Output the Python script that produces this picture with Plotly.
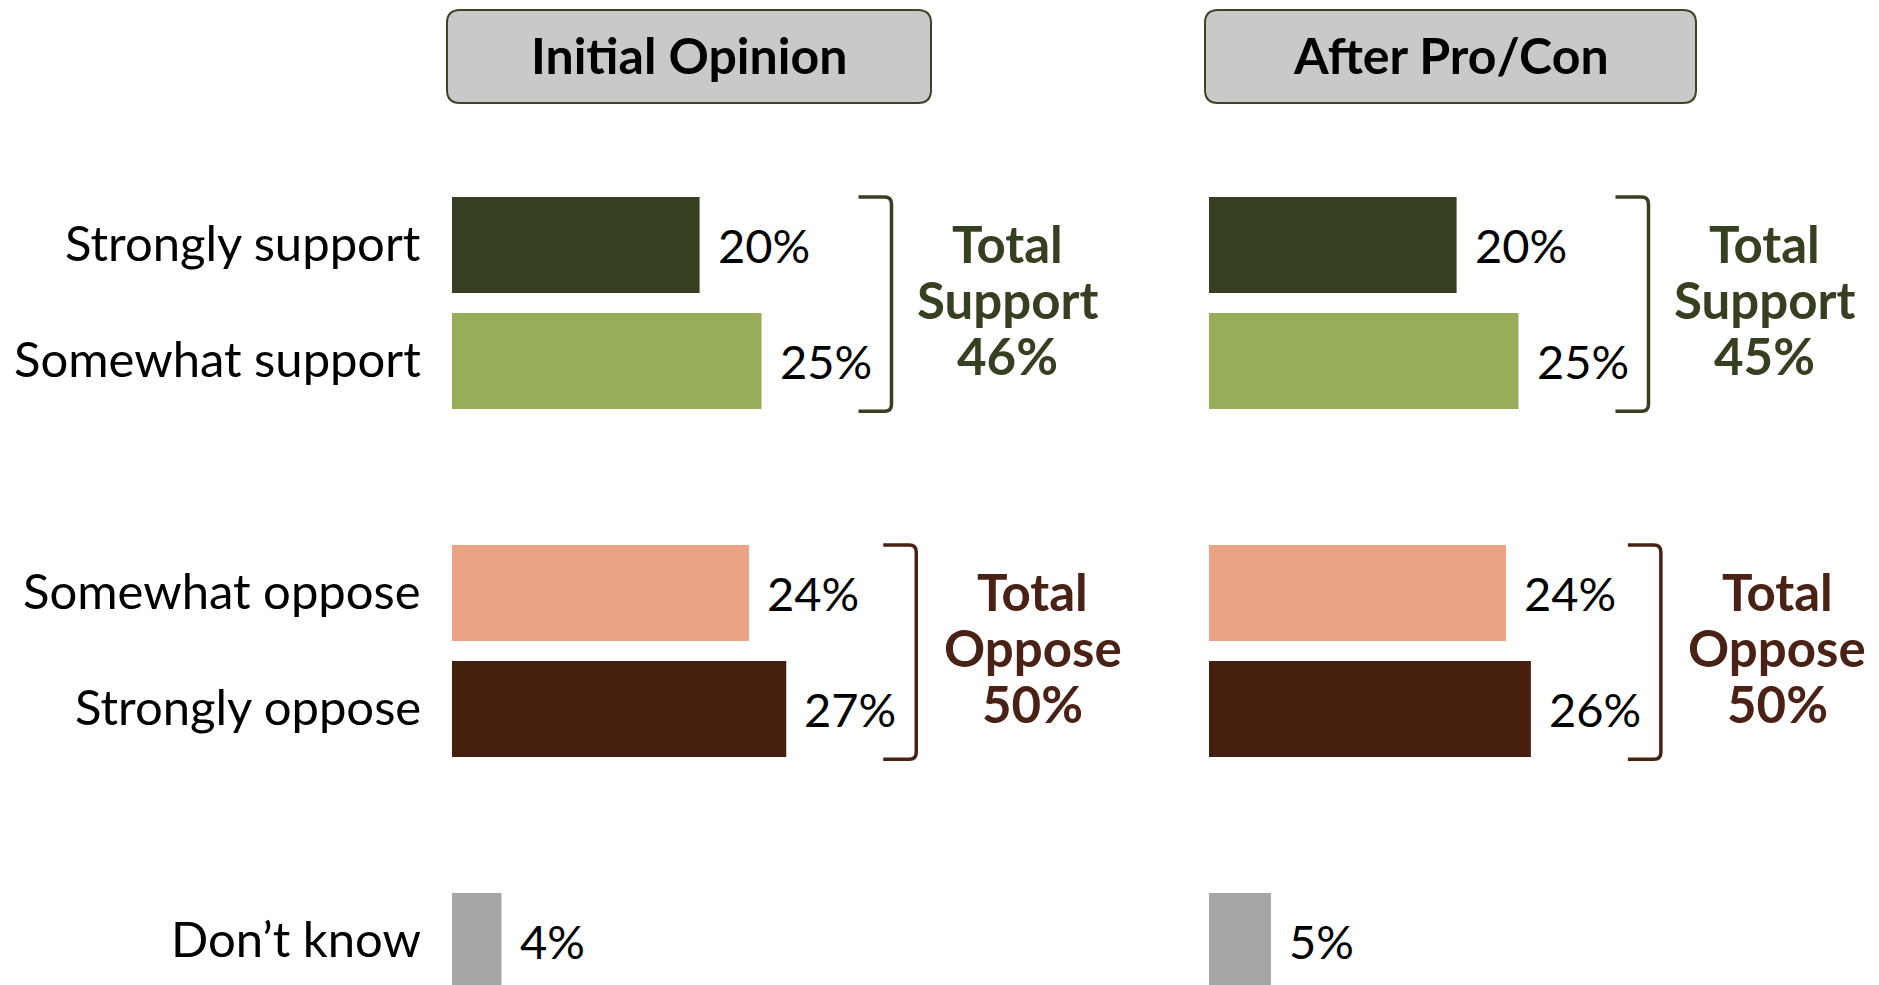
import plotly.graph_objects as go

# ---------------- data ----------------
categories = ["Strongly support", "Somewhat support", "Somewhat oppose", "Strongly oppose", "Don\u2019t know"]
row_positions = [0, 1, 3, 4, 6]
initial_values = [20, 25, 24, 27, 4]
after_values = [20, 25, 24, 26, 5]
panel_titles = ["Initial Opinion", "After Pro/Con"]
total_support = [46, 45]
total_oppose = [50, 50]

bar_colors = ["#363f20", "#97ad5a", "#eaa485", "#45200f", "#a6a6a6"]
support_color = "#363f20"
oppose_color = "#4a2115"

W, H = 1879, 985
PX_PER_PCT = 12.38
PX_PER_ROW = 116.0
ROW0_PX = 245.0
LEFT_ORIGIN = 452.0
RIGHT_ORIGIN = 1209.0

FONT = "Lato"

fig = go.Figure()

panels = [("x", initial_values, LEFT_ORIGIN), ("x2", after_values, RIGHT_ORIGIN)]

for xref, vals, origin in panels:
    fig.add_trace(go.Bar(
        x=vals, y=row_positions, orientation="h",
        width=96 / PX_PER_ROW,
        marker=dict(color=bar_colors, line=dict(width=0)),
        xaxis=xref, yaxis="y",
        hoverinfo="skip", showlegend=False,
    ))

annotations = []
shapes = []

# value labels
for xref, vals, origin in panels:
    for v, pos in zip(vals, row_positions):
        annotations.append(dict(
            x=v, y=pos, xref=xref, yref="y", text=f"{v}%",
            showarrow=False, xanchor="left", yanchor="middle", xshift=16, yshift=0,
            font=dict(family=FONT, size=47, color="#000000"),
        ))

# category labels
for cat, pos in zip(categories, row_positions):
    annotations.append(dict(
        x=0, y=pos, xref="x", yref="y", text=cat, showarrow=False,
        xanchor="right", yanchor="middle", xshift=-29, yshift=3,
        font=dict(family=FONT, size=49, color="#000000"),
    ))

# brackets and totals
def bracket(xref, xval, ytop, ybot, color):
    tick = 33 / PX_PER_PCT
    rx = 7 / PX_PER_PCT
    ry = 7 / PX_PER_ROW
    path = (f"M {xval - tick},{ytop} L {xval - rx},{ytop} Q {xval},{ytop} {xval},{ytop + ry} "
            f"L {xval},{ybot - ry} Q {xval},{ybot} {xval - rx},{ybot} L {xval - tick},{ybot}")
    return dict(type="path", xref=xref, yref="y", path=path,
                line=dict(color=color, width=3.5))

half = 48 / PX_PER_ROW
line_gap = 56 / PX_PER_ROW
groups = [
    (0, 1, "Total", "Support", total_support, support_color),
    (3, 4, "Total", "Oppose", total_oppose, oppose_color),
]
for pi, (xref, vals, origin) in enumerate(panels):
    for (a, b, w1, w2, totals, color) in groups:
        ia, ib = row_positions.index(a), row_positions.index(b)
        mx = max(vals[ia], vals[ib])
        bx = mx + 10.5
        shapes.append(bracket(xref, bx, a - half, b + half + 0.02, color))
        cx = bx + 9.4
        cy = (a + b) / 2
        for k, t in enumerate([w1, w2, f"{totals[pi]}%"]):
            annotations.append(dict(
                x=cx, y=cy + (k - 1) * line_gap, xref=xref, yref="y", text=f"<b>{t}</b>",
                showarrow=False, xanchor="center", yanchor="middle", yshift=4,
                font=dict(family=FONT, size=51, color=color),
            ))

# header boxes (rounded)
def px(x):
    return x / W

def py(y):
    return 1 - y / H

def rounded_rect(x0, y0, x1, y1, r):
    return (f"M {px(x0 + r)},{py(y0)} L {px(x1 - r)},{py(y0)} Q {px(x1)},{py(y0)} {px(x1)},{py(y0 + r)} "
            f"L {px(x1)},{py(y1 - r)} Q {px(x1)},{py(y1)} {px(x1 - r)},{py(y1)} "
            f"L {px(x0 + r)},{py(y1)} Q {px(x0)},{py(y1)} {px(x0)},{py(y1 - r)} "
            f"L {px(x0)},{py(y0 + r)} Q {px(x0)},{py(y0)} {px(x0 + r)},{py(y0)} Z")

header_boxes = [(447, 10, 931, 103), (1205, 10, 1696, 103)]
for title, (x0, y0, x1, y1) in zip(panel_titles, header_boxes):
    shapes.append(dict(type="path", xref="paper", yref="paper", path=rounded_rect(x0, y0, x1, y1, 13),
                       fillcolor="#c9c9c9", line=dict(color="#3d4327", width=2), layer="below"))
    annotations.append(dict(
        x=px((x0 + x1) / 2), y=py((y0 + y1) / 2 - 2), xref="paper", yref="paper",
        text=f"<b>{title}</b>", showarrow=False, xanchor="center", yanchor="middle",
        font=dict(family=FONT, size=50, color="#000000"),
    ))

fig.update_layout(
    width=W, height=H,
    margin=dict(l=0, r=0, t=0, b=0),
    paper_bgcolor="white", plot_bgcolor="white",
    barmode="overlay",
    xaxis=dict(domain=[0, 1], range=[-LEFT_ORIGIN / PX_PER_PCT, (W - LEFT_ORIGIN) / PX_PER_PCT],
               visible=False, fixedrange=True),
    xaxis2=dict(domain=[0, 1], overlaying="x", anchor="y",
                range=[-RIGHT_ORIGIN / PX_PER_PCT, (W - RIGHT_ORIGIN) / PX_PER_PCT],
                visible=False, fixedrange=True),
    yaxis=dict(range=[(H - ROW0_PX) / PX_PER_ROW, -ROW0_PX / PX_PER_ROW], visible=False, fixedrange=True),
    annotations=annotations,
    shapes=shapes,
)

fig.write_html("out.html", config={"displayModeBar": False},
               post_script="document.body.style.margin='0';document.body.style.overflow='hidden';")
